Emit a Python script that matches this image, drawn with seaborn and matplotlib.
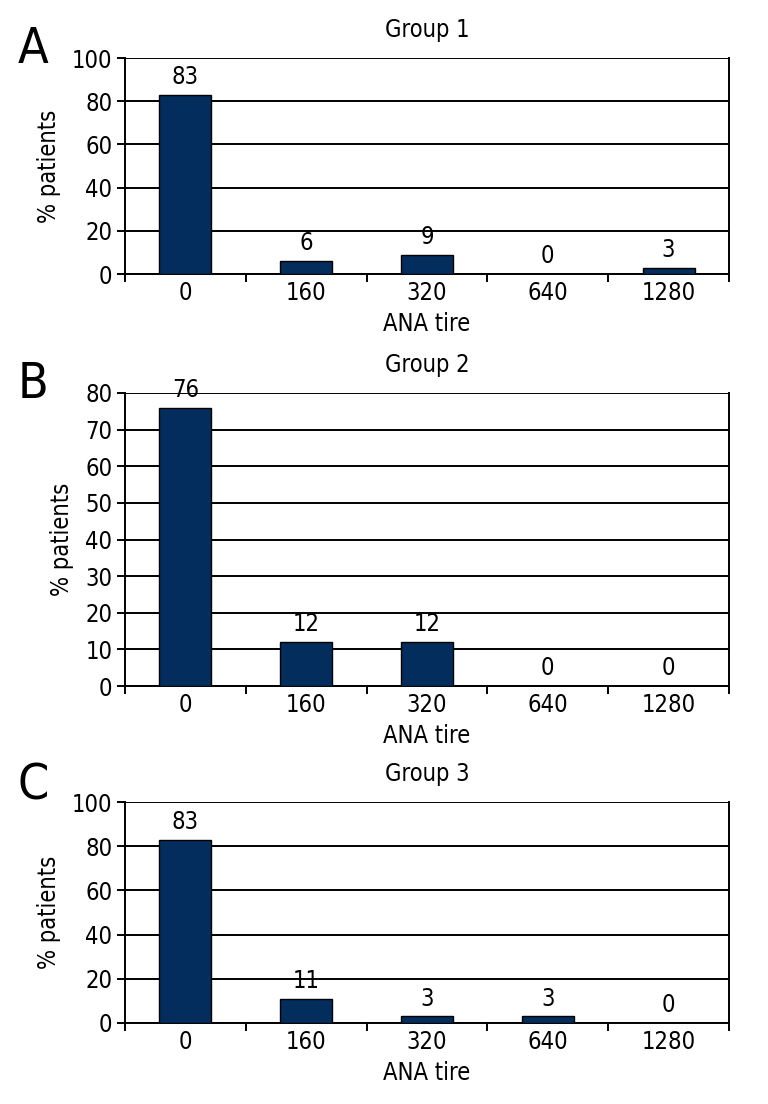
import matplotlib
matplotlib.use("Agg")
import matplotlib.pyplot as plt
import seaborn as sns
import pandas as pd

titres = ["0", "160", "320", "640", "1280"]
group1 = [83, 6, 9, 0, 3]
group2 = [76, 12, 12, 0, 0]
group3 = [83, 11, 3, 3, 0]
titles = ["Group 1", "Group 2", "Group 3"]
letters = ["A", "B", "C"]
ylims = [(0, 100, 20), (0, 80, 10), (0, 100, 20)]

sns.set_style("white")
plt.rcParams['font.family'] = ['DejaVu Sans']
plt.rcParams['font.stretch'] = 'condensed'
for k in ["text.color", "axes.labelcolor", "xtick.color", "ytick.color"]:
    plt.rcParams[k] = "black"

W, H = 768, 1104
fig = plt.figure(figsize=(W / 100, H / 100), dpi=100)

boxes = [(58, 274), (393, 686), (802, 1023)]
left, right = 125, 729
letter_y = [49, 384, 785]

bar_color = "#032d5c"

for i, (vals, (top, bot)) in enumerate(zip([group1, group2, group3], boxes)):
    ax = fig.add_axes([left / W, 1 - bot / H, (right - left) / W, (bot - top) / H])
    df = pd.DataFrame({"ANA tire": titres, "% patients": vals})
    sns.barplot(data=df, x="ANA tire", y="% patients", order=titres, ax=ax,
                color=bar_color, saturation=1, edgecolor="black", linewidth=1.0,
                width=0.43, zorder=3)
    lo, hi, step = ylims[i]
    ax.set_ylim(lo, hi)
    ax.set_xlim(-0.5, len(titres) - 0.5)
    ax.set_yticks(range(lo, hi + 1, step))
    ax.yaxis.grid(True, color="black", linewidth=1.4, zorder=0)
    ax.set_axisbelow(True)
    for s in ax.spines.values():
        s.set_visible(True)
        s.set_color("black")
        s.set_linewidth(1.4)
    ax.spines["top"].set_visible(False)
    ax.tick_params(axis="y", which="major", direction="out", length=6, width=1.4,
                   color="black", labelsize=17, pad=3, left=True)
    ax.tick_params(axis="x", which="major", length=0, labelsize=17, pad=5)
    ax.set_xticks([x + 0.5 for x in range(-1, len(titres))], minor=True)
    ax.tick_params(axis="x", which="minor", direction="out", length=6, width=1.4,
                   color="black", bottom=True)
    ax.set_xlabel("ANA tire", fontsize=17, labelpad=5)
    ax.set_ylabel("% patients", fontsize=17, labelpad=8)
    ax.set_title(titles[i], fontsize=17, pad=15)
    for c in ax.containers:
        ax.bar_label(c, labels=[str(v) for v in vals], fontsize=17, padding=4)
    fig.text(18 / W, 1 - letter_y[i] / H, letters[i], fontsize=36, va="center", ha="left")

fig.savefig("out.png", dpi=100)
